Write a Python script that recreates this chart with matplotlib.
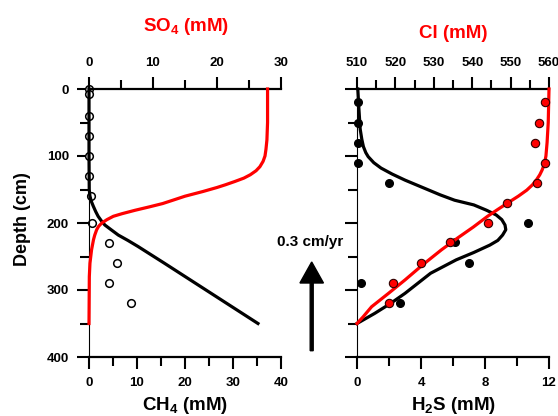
import numpy as np
import matplotlib
matplotlib.use("Agg")
import matplotlib.pyplot as plt
from matplotlib.patches import FancyArrow
from matplotlib.ticker import MultipleLocator

plt.rcParams['font.family'] = 'Liberation Sans'
plt.rcParams['font.weight'] = 'bold'
plt.rcParams['mathtext.fontset'] = 'custom'
plt.rcParams['mathtext.rm'] = 'Liberation Sans:bold'
plt.rcParams['mathtext.bf'] = 'Liberation Sans:bold'
plt.rcParams['mathtext.it'] = 'Liberation Sans:bold'

# left panel: CH4 data (open circles) and model, SO4 model
ch4_obs_depth = [0, 8, 40, 70, 100, 130, 160, 200, 230, 260, 290, 320]
ch4_obs = [0, 0, 0, 0, 0, 0, 0.5, 0.7, 4.1, 5.9, 4.1, 8.7]

ch4_mod_depth = [0, 100, 150, 160, 168, 175, 183, 190, 197, 203, 210, 218, 226,
                 235, 260, 290, 320, 350]
ch4_mod = [0, 0, 0.05, 0.2, 0.5, 0.9, 1.4, 1.9, 2.6, 3.3, 4.6, 6.1, 8.1,
           10.2, 15.7, 22.2, 28.7, 35.2]

so4_mod_depth = [0, 50, 76, 90, 100, 108, 116, 122, 128, 133, 138, 143, 147, 153,
                 160, 166, 171, 176, 181, 186, 190, 195, 200, 205, 210, 218, 225,
                 240, 260, 280, 350]
so4_mod = [27.9, 27.9, 27.8, 27.65, 27.5, 27.2, 26.7, 26.1, 25.2, 24.2, 22.8, 21.3,
           20.0, 17.8, 15.0, 13.1, 11.5, 9.4, 7.2, 5.2, 3.8, 2.8, 2.0, 1.5, 1.2,
           0.9, 0.7, 0.4, 0.15, 0.05, 0]

# right panel: H2S data (black dots) and model, Cl data (red dots) and model
h2s_obs_depth = [19, 50, 80, 110, 140, 200, 229, 259, 289, 320]
h2s_obs = [0.05, 0.05, 0.05, 0.05, 2.0, 10.7, 6.1, 7.0, 0.25, 2.7]

h2s_mod_depth = [0, 30, 60, 75, 86, 95, 101, 110, 118, 127, 136, 144, 151, 158,
                 166, 173, 181, 188, 195, 203, 210, 218, 226, 233, 244, 255, 265,
                 275, 290, 305, 320, 335, 350]
h2s_mod = [0.05, 0.12, 0.2, 0.3, 0.4, 0.55, 0.7, 1.05, 1.5, 2.2, 3.0, 3.8, 4.5, 5.2,
           6.1, 7.3, 8.1, 8.7, 9.05, 9.25, 9.3, 9.1, 8.8, 8.3, 7.3, 6.2, 5.4,
           4.6, 3.8, 3.0, 2.1, 1.1, 0]

cl_obs_depth = [19, 50, 80, 110, 140, 170, 200, 229, 259, 289, 320]
cl_obs = [559.0, 557.3, 556.4, 559.0, 556.8, 549.0, 544.2, 534.1, 526.6, 519.5, 518.4]

cl_mod_depth = [0, 50, 80, 100, 112, 121, 128, 135, 143, 151, 160, 171, 180, 190,
                206, 222, 240, 262, 285, 305, 325, 340, 350]
cl_mod = [560, 559.8, 559.5, 559.2, 558.8, 558.2, 557.6, 556.8, 555.7, 554.2,
          552.0, 549.0, 546.6, 544.0, 540.3, 536.3, 532.0, 527.2, 522.5, 518.2,
          513.8, 511.6, 510]

depth_major = 100
depth_minor = 50


def setup_panel(ax, xlim, xmajor, xminor, top_lim, top_major, top_minor, ylabels):
    ax.set_ylim(400, 0)
    ax.set_xlim(*xlim)
    ax.xaxis.set_major_locator(MultipleLocator(xmajor))
    ax.xaxis.set_minor_locator(MultipleLocator(xminor))
    ax.yaxis.set_major_locator(MultipleLocator(depth_major))
    ax.yaxis.set_minor_locator(MultipleLocator(depth_minor))
    ax.spines['right'].set_visible(False)
    ax.spines['top'].set_visible(False)
    ax.spines['left'].set_linewidth(0.8)
    ax.spines['bottom'].set_linewidth(1.6)
    ax.tick_params(axis='both', which='both', direction='out', width=1.5,
                   labelsize=9.5)
    ax.tick_params(axis='both', which='major', length=8.5)
    ax.tick_params(axis='both', which='minor', length=6.5)
    ax.tick_params(axis='x', pad=6)
    ax.tick_params(axis='y', pad=6, labelleft=ylabels)

    top = ax.twiny()
    top.set_xlim(*top_lim)
    top.xaxis.set_major_locator(MultipleLocator(top_major))
    top.xaxis.set_minor_locator(MultipleLocator(top_minor))
    for s in ['left', 'right', 'bottom']:
        top.spines[s].set_visible(False)
    top.spines['top'].set_linewidth(1.6)
    top.tick_params(axis='x', which='both', direction='out', width=1.5,
                    labelsize=9.5, pad=6)
    top.tick_params(axis='x', which='major', length=8.5)
    top.tick_params(axis='x', which='minor', length=6.5)
    return top


fig = plt.figure(figsize=(5.58, 4.16), dpi=100)

# left panel
ax1 = fig.add_axes([89 / 558, 59 / 416, 192 / 558, 268 / 416])
top1 = setup_panel(ax1, (0, 40), 10, 5, (0, 30), 10, 5, True)
ax1.plot(ch4_obs, ch4_obs_depth, 'o', ms=5.5, mfc='white', mec='black', mew=1.1,
         clip_on=False, zorder=2)
ax1.plot(ch4_mod, ch4_mod_depth, color='black', lw=2.3, zorder=3, clip_on=False)
top1.plot(so4_mod, so4_mod_depth, color='red', lw=2.3, zorder=4, clip_on=False)

# right panel
ax2 = fig.add_axes([357 / 558, 59 / 416, 192 / 558, 268 / 416])
top2 = setup_panel(ax2, (0, 12), 4, 2, (510, 560), 10, 5, False)
ax2.plot(h2s_obs, h2s_obs_depth, 'o', ms=5.5, color='black', clip_on=False, zorder=2)
ax2.plot(h2s_mod, h2s_mod_depth, color='black', lw=2.3, zorder=3, clip_on=False)
top2.plot(cl_mod, cl_mod_depth, color='red', lw=2.3, zorder=4, clip_on=False)
top2.plot(cl_obs, cl_obs_depth, 'o', ms=6, mfc='red', mec='#300000', mew=0.8,
          clip_on=False, zorder=5)

# labels
fig.text(186 / 558, (416 - 30.7) / 416, r'SO$_\mathbf{4}$ (mM)', color='red',
         fontsize=13.5, ha='center', va='baseline')
fig.text(453.5 / 558, (416 - 37.7) / 416, 'Cl (mM)', color='red',
         fontsize=13.5, ha='center', va='baseline')
fig.text(185.5 / 558, (416 - 410) / 416, r'CH$_\mathbf{4}$ (mM)',
         fontsize=13.5, ha='center', va='baseline')
fig.text(453.3 / 558, (416 - 410) / 416, r'H$_\mathbf{2}$S (mM)',
         fontsize=13.5, ha='center', va='baseline')
fig.text(23 / 558, (416 - 219.5) / 416, 'Depth (cm)', rotation=90,
         fontsize=13, ha='center', va='center')

# burial velocity arrow
fig.text(310.5 / 558, (416 - 246) / 416, '0.3 cm/yr', fontsize=11,
         ha='center', va='baseline')
arrow = FancyArrow(3.117, (416 - 350.7) / 100, 0, (350.7 - 262) / 100,
                   width=0.03, head_width=0.235, head_length=0.21,
                   length_includes_head=True, color='black',
                   transform=fig.dpi_scale_trans)
fig.add_artist(arrow)

fig.savefig('out.png', dpi=100)
